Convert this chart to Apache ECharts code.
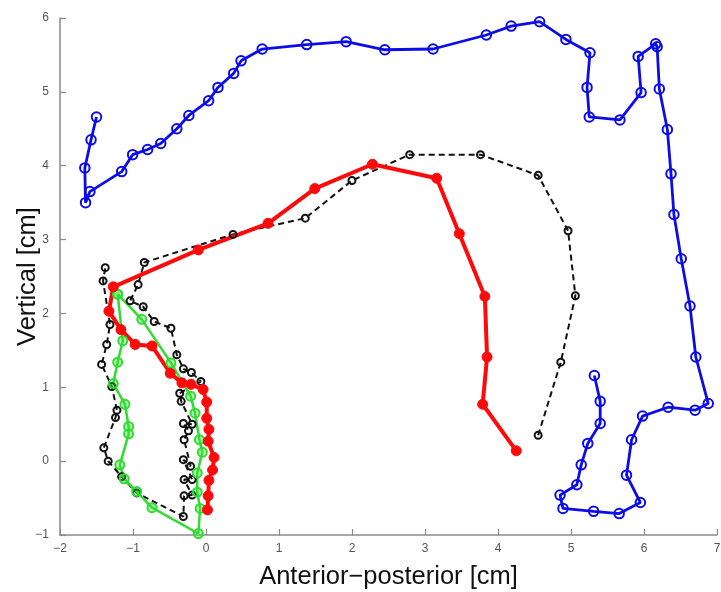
<!DOCTYPE html>
<html>
<head>
<meta charset="utf-8">
<script src="https://cdn.jsdelivr.net/npm/echarts@6/dist/echarts.min.js"></script>
<style>
  html, body { margin: 0; padding: 0; background: #fff; }
  #chart { width: 721px; height: 592px; }
</style>
</head>
<body>
<div id="chart"></div>
<script>
// Trajectories in the sagittal plane, [anterior-posterior, vertical] in cm
const blueTrace = [
  [-1.50, 4.66], [-1.575, 4.35], [-1.66, 3.97], [-1.65, 3.50], [-1.59, 3.65],
  [-1.155, 3.92], [-1.005, 4.15], [-0.80, 4.22], [-0.62, 4.30], [-0.40, 4.50],
  [-0.235, 4.68], [0.036, 4.88], [0.164, 5.06], [0.379, 5.25], [0.48, 5.42],
  [0.77, 5.58], [1.38, 5.64], [1.92, 5.68], [2.45, 5.57], [3.11, 5.58],
  [3.84, 5.77], [4.18, 5.89], [4.57, 5.95], [4.93, 5.71], [5.26, 5.53],
  [5.22, 5.06], [5.25, 4.66], [5.67, 4.62], [5.96, 4.99], [5.92, 5.48],
  [6.16, 5.65], [6.18, 5.61], [6.21, 5.04], [6.32, 4.49], [6.37, 3.89],
  [6.41, 3.34], [6.51, 2.74], [6.63, 2.10], [6.71, 1.41], [6.88, 0.78],
  [6.70, 0.69], [6.33, 0.73], [5.98, 0.61], [5.83, 0.29], [5.76, -0.19],
  [5.95, -0.56], [5.66, -0.71], [5.31, -0.68], [4.89, -0.64], [4.85, -0.46],
  [5.08, -0.32], [5.14, -0.05], [5.23, 0.24], [5.40, 0.51], [5.40, 0.81],
  [5.32, 1.16]
];

const blackTrace = [
  [4.55, 0.35], [4.86, 1.34], [5.06, 2.24], [4.96, 3.12], [4.55, 3.87],
  [3.76, 4.15], [2.79, 4.15], [2.00, 3.80], [1.36, 3.29], [0.37, 3.07],
  [-0.845, 2.69], [-0.93, 2.39], [-1.04, 2.17], [-0.86, 2.09], [-0.71, 1.89],
  [-0.48, 1.80], [-0.40, 1.44], [-0.31, 1.25], [-0.20, 1.20], [-0.07, 1.08],
  [-0.36, 0.92], [-0.34, 0.81], [-0.19, 0.50], [-0.31, 0.51], [-0.24, 0.41],
  [-0.30, 0.29], [-0.21, -0.07], [-0.31, 0.02], [-0.19, -0.25], [-0.30, -0.25],
  [-0.19, -0.46], [-0.30, -0.47], [-0.31, -0.75], [-0.95, -0.43], [-1.155, -0.21],
  [-1.34, 0.00], [-1.40, 0.18], [-1.24, 0.59], [-1.22, 0.69], [-1.29, 1.01],
  [-1.43, 1.31], [-1.36, 1.58], [-1.315, 1.85], [-1.41, 2.44], [-1.38, 2.62]
];

const greenTrace = [
  [-1.21, 2.26], [-1.14, 1.63], [-1.21, 1.34], [-1.27, 1.05], [-1.11, 0.77],
  [-1.06, 0.47], [-1.06, 0.37], [-1.18, -0.05], [-1.12, -0.24], [-0.95, -0.41],
  [-0.74, -0.63], [-0.105, -0.98], [-0.08, -0.64], [-0.12, -0.42], [-0.12, -0.16],
  [-0.05, 0.12], [-0.09, 0.29], [-0.15, 0.65], [-0.21, 0.88], [-0.48, 1.33],
  [-0.88, 1.92], [-1.21, 2.26]
];

const redTrace = [
  [4.25, 0.14], [3.79, 0.77], [3.85, 1.41], [3.82, 2.23], [3.47, 3.08],
  [3.16, 3.83], [2.28, 4.02], [1.49, 3.69], [0.85, 3.22], [-0.105, 2.86],
  [-1.27, 2.36], [-1.33, 2.03], [-1.165, 1.78], [-0.97, 1.58], [-0.74, 1.56],
  [-0.49, 1.19], [-0.33, 1.06], [-0.205, 1.04], [-0.04, 0.97], [0.01, 0.80],
  [0.01, 0.58], [0.04, 0.43], [0.03, 0.27], [0.11, 0.05], [0.09, -0.12],
  [0.04, -0.26], [0.03, -0.47], [0.02, -0.66]
];

const xName = 'Anterior\u2212posterior [cm]';
const yName = 'Vertical [cm]';

const fontFamily = '"Liberation Sans", Arial, sans-serif';
const axisColor = '#8a8a8a';
const minusSign = v => String(v).replace('-', '\u2212');

function axisStyle(labelMargin) {
  return {
    axisLine: { show: true, onZero: false, lineStyle: { color: axisColor, width: 1.5 } },
    axisTick: { show: true, inside: true, length: 6, lineStyle: { color: axisColor, width: 1.2 } },
    axisLabel: { color: '#555', fontSize: 12, margin: labelMargin, fontFamily: fontFamily, formatter: minusSign },
    splitLine: { show: false },
    nameLocation: 'middle',
    nameMoveOverlap: false,
    nameTextStyle: { color: '#111', fontSize: 25.5, fontFamily: fontFamily }
  };
}

function trace(data, color, opts) {
  return Object.assign({
    type: 'line',
    data: data,
    symbol: 'circle',
    showAllSymbol: true,
    animation: false,
    silent: true,
    lineStyle: { color: color, width: 2.5 },
    itemStyle: { color: 'rgba(255,255,255,0)', borderColor: color, borderWidth: 2 }
  }, opts);
}

const chart = echarts.init(document.getElementById('chart'), null, { renderer: 'canvas' });
chart.setOption({
  backgroundColor: '#fff',
  animation: false,
  grid: { left: 60, right: 4, top: 18, bottom: 57, containLabel: false, outerBoundsMode: 'none' },
  xAxis: Object.assign(axisStyle(8), {
    type: 'value', min: -2, max: 7, interval: 1,
    name: xName, nameGap: 29
  }),
  yAxis: Object.assign(axisStyle(11), {
    type: 'value', min: -1, max: 6, interval: 1,
    name: yName, nameGap: 19
  }),
  series: [
    trace(blueTrace, '#0c0ce8', { symbolSize: 9.5, lineStyle: { color: '#0c0ce8', width: 2.8 } }),
    trace(blackTrace, '#111', {
      symbolSize: 7,
      lineStyle: { color: '#111', width: 2, type: [6, 4] }
    }),
    trace(greenTrace, '#2fdc2f', {
      symbolSize: 9,
      itemStyle: { color: 'rgba(60,225,60,0.35)', borderColor: '#2fdc2f', borderWidth: 2 }
    }),
    trace(redTrace, '#ff0a0a', {
      symbolSize: 10,
      lineStyle: { color: '#ff0a0a', width: 4 },
      itemStyle: { color: '#ff0a0a', borderColor: '#ff0a0a', borderWidth: 1 }
    })
  ]
});
</script>
</body>
</html>
